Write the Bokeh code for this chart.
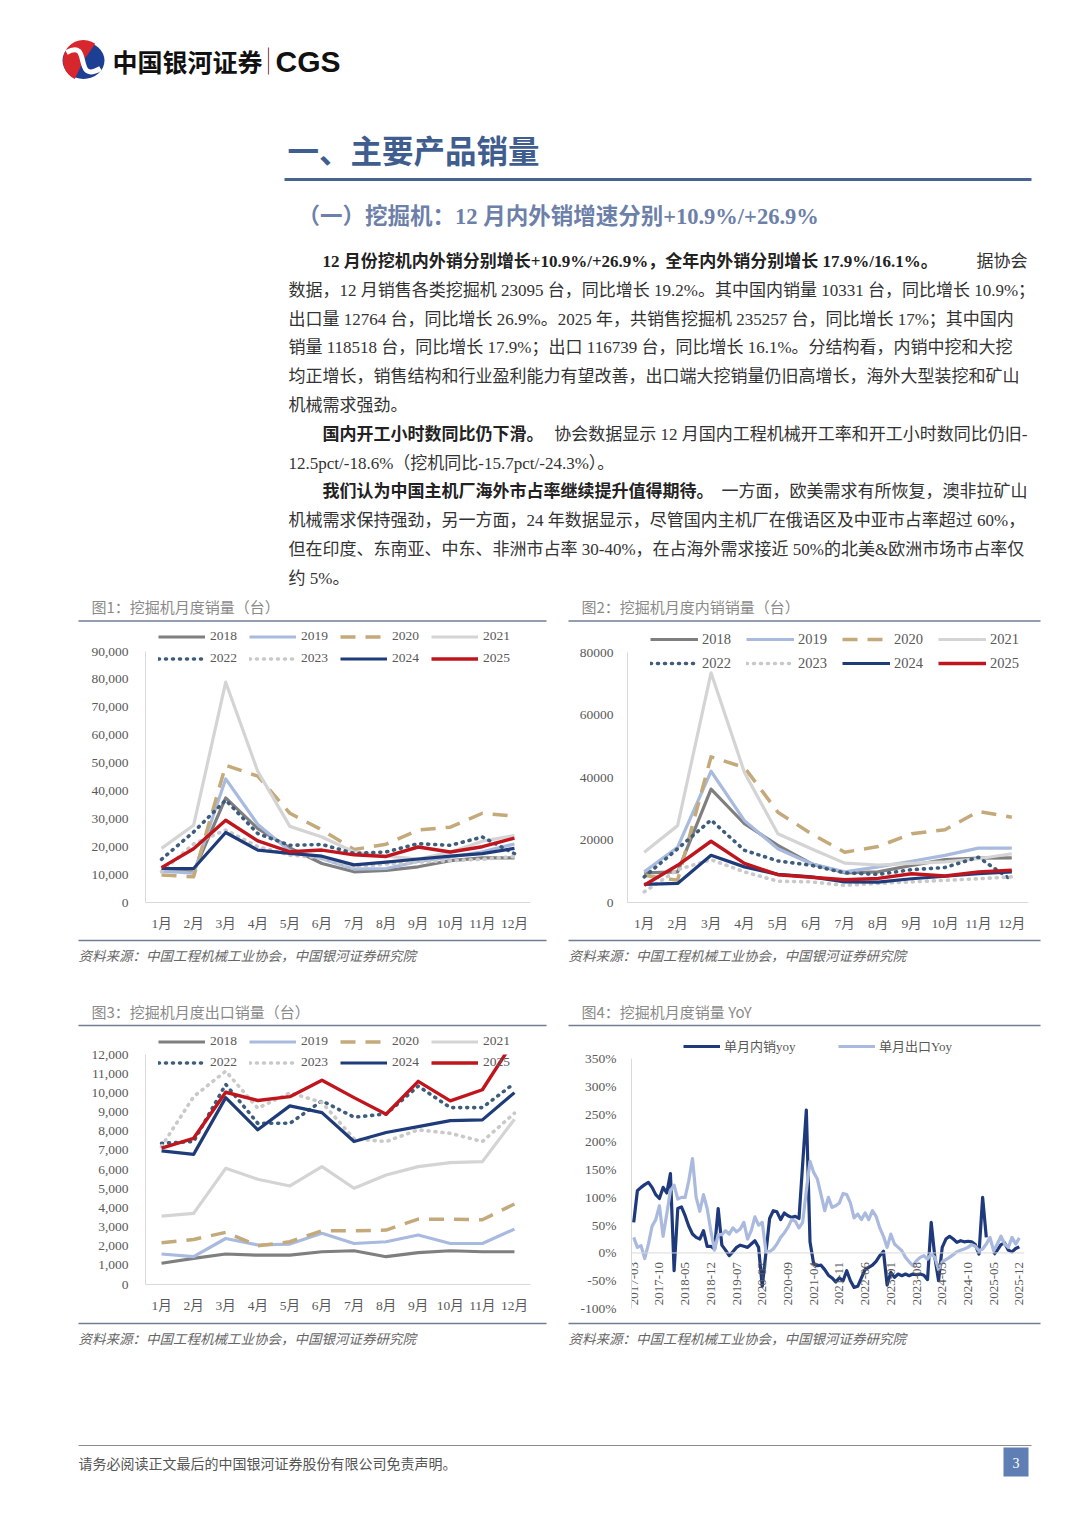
import math
import pandas as pd
from bokeh.plotting import figure
from bokeh.core.properties import value
from bokeh.models import (Range1d, FixedTicker, NumeralTickFormatter, PrintfTickFormatter,
                          Legend, LegendItem, LinearAxis, Label, Span, ColumnDataSource,
                          BoxAnnotation)
from bokeh.layouts import column, row
from bokeh.embed import file_html
from bokeh.resources import INLINE

# ---------------- data ----------------
MONTH_LABELS = ["1月", "2月", "3月", "4月", "5月", "6月", "7月", "8月", "9月", "10月", "11月", "12月"]
MONTH_NUM = list(range(1, 13))
YEARS = ["2018", "2019", "2020", "2021", "2022", "2023", "2024", "2025"]

# Fig1: monthly excavator sales (units)
TOTAL_2018 = [11500, 11000, 37500, 26500, 19600, 14000, 11000, 11500, 12800, 15000, 16000, 16000]
TOTAL_2019 = [11200, 10500, 44300, 28000, 18500, 15700, 12000, 12200, 14700, 16300, 18200, 21000]
TOTAL_2020 = [9900, 9200, 49200, 45300, 32000, 26000, 19000, 20900, 26000, 27000, 32000, 31000]
TOTAL_2021 = [19400, 27700, 79000, 47000, 27300, 23500, 18100, 16600, 15600, 18000, 22000, 24000]
TOTAL_2022 = [15500, 25300, 36700, 24700, 20500, 20800, 17600, 18100, 21100, 20500, 23500, 17500]
TOTAL_2023 = [11000, 21000, 26000, 20000, 17000, 16000, 12600, 13800, 14500, 15000, 15500, 16500]
TOTAL_2024 = [12200, 12200, 25100, 18800, 17600, 16600, 13500, 14500, 15600, 16600, 17500, 19400]
TOTAL_2025 = [12500, 19300, 29500, 22100, 18200, 18800, 17100, 16500, 19900, 18100, 20000, 23095]

# Fig2: monthly domestic sales
DOM_2018 = [9500, 9800, 36300, 25200, 18300, 12400, 9500, 9800, 11900, 13700, 14200, 14300]
DOM_2019 = [9800, 17700, 42000, 26200, 17200, 12400, 9800, 11400, 13200, 15100, 17400, 17400]
DOM_2020 = [8700, 7100, 46600, 43200, 28900, 22000, 16100, 17900, 22000, 23300, 29100, 27300]
DOM_2021 = [16100, 24600, 73500, 41600, 22000, 17200, 12600, 12000, 12500, 13000, 14000, 15600]
DOM_2022 = [8200, 17200, 26400, 16700, 13300, 11900, 9500, 9000, 10500, 11200, 14500, 7100]
DOM_2023 = [3400, 10500, 13700, 9800, 6800, 6600, 5500, 6100, 6600, 7100, 7600, 8200]
DOM_2024 = [5800, 6100, 15100, 11400, 9000, 8200, 6600, 6500, 7600, 8400, 9200, 9800]
DOM_2025 = [5500, 11900, 19600, 12500, 8900, 8100, 7300, 7700, 9200, 8500, 9800, 10331]

# Fig3: monthly export sales
EXP_2018 = [1110, 1360, 1590, 1530, 1530, 1710, 1760, 1450, 1660, 1760, 1710, 1710]
EXP_2019 = [1590, 1450, 2400, 2060, 2110, 2670, 2140, 2230, 2580, 2140, 2140, 2890]
EXP_2020 = [2180, 2350, 2720, 2020, 2230, 2800, 2800, 2840, 3410, 3410, 3380, 4200]
EXP_2021 = [3570, 3710, 6060, 5490, 5140, 6150, 5020, 5710, 6150, 6360, 6410, 8620]
EXP_2022 = [7370, 7460, 10440, 8410, 8410, 9580, 8730, 8900, 10350, 9230, 9230, 10500]
EXP_2023 = [7200, 9800, 11130, 9200, 10000, 9500, 7600, 7460, 8070, 7890, 7460, 8940]
EXP_2024 = [6970, 6790, 9750, 8070, 9320, 8970, 7460, 7930, 8240, 8550, 8590, 10010]
EXP_2025 = [7110, 7630, 10030, 9600, 9800, 10660, 9750, 8880, 10600, 9580, 10160, 12764]

# Fig4: monthly YoY (%), 2017-03 .. 2025-12
NAN = float("nan")
YOY_DOMESTIC = [55, 112, 118, 123, 127, 118, 105, 98, 118, 108,
                143, -32, 80, 83, 67, 48, 34, 28, 25, 40,
                12, 12, 7, 80, 14, 5, -5, 2, 10, 14,
                12, 10, 16, 22, 10, -60, 0, 62, 76, 74,
                60, 72, 67, 64, 66, 62, 160, 257, 20, -20,
                -23, -22, -30, -40, -45, -52, -45, -50, -32, -50,
                -62, -60, -45, -30, -26, -22, -15, -5, 3, -58,
                -35, -44, -38, -41, -38, -41, -38, -39, -38, -40,
                -48, 55, -8, -50, 10, 25, 30, 25, 19, 22,
                20, 21, 20, 15, -2, 100, 28, NAN, -3, 5,
                15, 18, 5, 2, 8, 11]
YOY_EXPORT = [28, 10, 13, -10, 16, 48, 60, 85, 30, 70,
              112, 122, 97, 100, 100, 130, 170, 100, 75, 105,
              80, 40, 5, 33, 33, 40, 34, 45, 38, 43,
              55, 25, 40, 65, 50, 55, 3, 2, 7, 16,
              28, 36, 46, 60, 57, 45, 55, 112, 165, 145,
              133, 105, 76, 100, 82, 85, 90, 107, 105, 90,
              63, 70, 60, 72, 60, 76, 66, 45, 30, 10,
              34, 16, 10, 4, -8, -16, -23, -14, -8, -5,
              -11, -2, -8, -30, -16, -12, -8, -3, 2, 5,
              7, 10, 15, 12, 4, 7, 16, 28, 4, 16,
              30, 16, 10, 28, 16, 27]
YOY_TICK_LABELS = ["2017-03", "2017-10", "2018-05", "2018-12", "2019-07", "2020-02", "2020-09",
                   "2021-04", "2021-11", "2022-06", "2023-01", "2023-08", "2024-03", "2024-10",
                   "2025-05", "2025-12"]
YOY_SERIES = ["单月内销yoy", "单月出口Yoy"]

# ---------------- page texts ----------------
LOGO_CN = "中国银河证券"
LOGO_EN = "CGS"
H1 = "一、主要产品销量"
H2 = "（一）挖掘机：12 月内外销增速分别+10.9%/+26.9%"
PARA = [
    ("12 月份挖机内外销分别增长+10.9%/+26.9%，全年内外销分别增长 17.9%/16.1%。", "据协会"),
    ("", "数据，12 月销售各类挖掘机 23095 台，同比增长 19.2%。其中国内销量 10331 台，同比增长 10.9%；"),
    ("", "出口量 12764 台，同比增长 26.9%。2025 年，共销售挖掘机 235257 台，同比增长 17%；其中国内"),
    ("", "销量 118518 台，同比增长 17.9%；出口 116739 台，同比增长 16.1%。分结构看，内销中挖和大挖"),
    ("", "均正增长，销售结构和行业盈利能力有望改善，出口端大挖销量仍旧高增长，海外大型装挖和矿山"),
    ("", "机械需求强劲。"),
    ("国内开工小时数同比仍下滑。", "协会数据显示 12 月国内工程机械开工率和开工小时数同比仍旧-"),
    ("", "12.5pct/-18.6%（挖机同比-15.7pct/-24.3%）。"),
    ("我们认为中国主机厂海外市占率继续提升值得期待。", "一方面，欧美需求有所恢复，澳非拉矿山"),
    ("", "机械需求保持强劲，另一方面，24 年数据显示，尽管国内主机厂在俄语区及中亚市占率超过 60%，"),
    ("", "但在印度、东南亚、中东、非洲市占率 30-40%，在占海外需求接近 50%的北美&欧洲市场市占率仅"),
    ("", "约 5%。"),
]
PARA_Y = [261, 290, 319, 347, 376, 405, 434, 463, 491, 520, 549, 578]
TITLE1 = "图1：挖掘机月度销量（台）"
TITLE2 = "图2：挖掘机月度内销销量（台）"
TITLE3 = "图3：挖掘机月度出口销量（台）"
TITLE4 = "图4：挖掘机月度销量 YoY"
SOURCE = "资料来源：中国工程机械工业协会，中国银河证券研究院"
FOOTER = "请务必阅读正文最后的中国银河证券股份有限公司免责声明。"
PAGE_NO = "3"

# ---------------- styles ----------------
SERIF = "'Liberation Serif', 'Noto Sans CJK SC'"
CJK = "'Noto Sans CJK SC'"
TICK_COLOR = "#595959"
AXIS_COLOR = "#d9d9d9"
RULE_COLOR = "#6f7c92"
STYLE = {
    "2018": dict(line_color="#7f7f7f", line_width=3.2),
    "2019": dict(line_color="#a9badf", line_width=3.2),
    "2020": dict(line_color="#c4a97b", line_width=3.5, line_dash="15 10"),
    "2021": dict(line_color="#d4d4d4", line_width=3.2),
    "2022": dict(line_color="#3e5d7c", line_width=3.6, line_dash="1 6", line_cap="round"),
    "2023": dict(line_color="#c9c9c9", line_width=3.6, line_dash="1 6", line_cap="round"),
    "2024": dict(line_color="#1f3c7a", line_width=3.2),
    "2025": dict(line_color="#c0151d", line_width=3.4),
}
YOY_STYLE = [dict(line_color="#1f3a7c", line_width=3.2), dict(line_color="#aab9de", line_width=3.2)]

PAGE_W = 1064


def page_fig(top, bottom):
    p = figure(width=PAGE_W, height=bottom - top, x_range=Range1d(0, PAGE_W),
               y_range=Range1d(bottom, top), output_backend="svg", toolbar_location=None,
               min_border=0, x_axis_location=None, y_axis_location=None)
    p.outline_line_color = None
    p.grid.visible = False
    return p


def put(p, x, y, text, size, color, font=SERIF, style="normal", align="left"):
    p.add_layout(Label(x=x, y=y, text=text, text_font=font, text_font_size=f"{size}px",
                       text_color=color, text_font_style=style, text_align=align,
                       text_baseline="middle"))


def hline(p, x0, x1, y, color, width):
    p.segment(x0=[x0], y0=[y], x1=[x1], y1=[y], line_color=color, line_width=width)


def style_axis(ax, standoff, size=13.5):
    ax.axis_line_color = AXIS_COLOR
    ax.axis_line_width = 1
    ax.major_tick_line_color = None
    ax.minor_tick_line_color = None
    ax.major_tick_out = 0
    ax.major_tick_in = 0
    ax.minor_tick_out = 0
    ax.minor_tick_in = 0
    ax.major_label_text_font = SERIF
    ax.major_label_text_font_size = f"{size}px"
    ax.major_label_text_color = TICK_COLOR
    ax.major_label_standoff = standoff


BT = 2  # plot frame starts right below the chart-title rule; legend rows live inside it


def chart_fig(w, h, bl, br, bb, xr, ymin, ymax, page_top, axis_top_px):
    """Frame reaches up to hold the legend; the value axis itself spans ymin..ymax."""
    frame_top = page_top + BT
    frame_bottom = page_top + h - bb
    y_end = ymin + (ymax - ymin) * (frame_bottom - frame_top) / (frame_bottom - axis_top_px)
    p = figure(width=w, height=h, x_range=xr, y_range=Range1d(ymin, y_end),
               output_backend="svg", toolbar_location=None, min_border_left=bl,
               min_border_right=br, min_border_top=BT, min_border_bottom=bb,
               x_axis_location=None, y_axis_location=None)
    p.outline_line_color = None
    p.grid.visible = False
    # each chart keeps its own frame (no border alignment with its neighbour in the row)
    if "frame_align" in p.properties():
        p.frame_align = False
    # plot-area clipping above the value-axis maximum (as in the source chart)
    p.add_layout(BoxAnnotation(bottom=ymax, fill_color="white", fill_alpha=1.0,
                               line_alpha=0, level="guide"))
    return p, frame_bottom


def make_legend(pairs, loc, font_size, glyph_w, label_w, spacing, standoff, item_h):
    items = [LegendItem(label=lab, renderers=[ren]) for lab, ren in pairs]
    return Legend(items=items, orientation="horizontal", location=loc,
                  padding=0, margin=0, spacing=spacing, glyph_width=glyph_w,
                  glyph_height=item_h, label_height=item_h, label_width=label_w,
                  label_standoff=standoff, label_text_font=SERIF,
                  label_text_font_size=f"{font_size}px", label_text_color=TICK_COLOR,
                  border_line_color=None, background_fill_alpha=0)


def monthly_chart(series, page_top, w, h, bl, br, bb, axis_top_px, ymax, ystep, fmt,
                  rows_y, lx, legend_font, glyph_w, label_w, spacing, standoff,
                  ylab_standoff, item_h=17):
    p, frame_bottom = chart_fig(w, h, bl, br, bb, Range1d(0.5, 12.5), 0, ymax,
                                page_top, axis_top_px)
    yax = LinearAxis(ticker=FixedTicker(ticks=list(range(0, ymax + 1, ystep))),
                     formatter=NumeralTickFormatter(format=fmt), bounds=(0, ymax))
    style_axis(yax, ylab_standoff)
    p.add_layout(yax, "left")
    xax = LinearAxis(ticker=FixedTicker(ticks=MONTH_NUM),
                     major_label_overrides={m: lab for m, lab in zip(MONTH_NUM, MONTH_LABELS)})
    style_axis(xax, 13)
    p.add_layout(xax, "below")
    pairs = []
    for yr, vals in zip(YEARS, series):
        r = p.line(MONTH_NUM, vals, line_join="round", **STYLE[yr])
        pairs.append((yr, r))
    for k, yc in enumerate(rows_y):
        leg = make_legend(pairs[4 * k:4 * k + 4], (lx, frame_bottom - (yc + item_h / 2)),
                          legend_font, glyph_w, label_w, spacing, standoff, item_h)
        p.add_layout(leg, "center")
    return p


# ---------------- top section (page y 0..622) ----------------
top = page_fig(0, 622)
# logo
top.ellipse(x=[83], y=[60], width=[42], height=[37], fill_color="#1d3f93", line_color=None)
top.wedge(x=[83], y=[60], radius=[20.5], start_angle=[math.radians(55)],
          end_angle=[math.radians(245)], fill_color="#d7262d", line_color=None)
top.bezier(x0=[66], y0=[52], x1=[100], y1=[68], cx0=[92], cy0=[38], cx1=[72], cy1=[84],
           line_color="white", line_width=5)
put(top, 112, 60, LOGO_CN, 25, "#111111", font=CJK, style="bold")
top.segment(x0=[268], y0=[47], x1=[268], y1=[74], line_color="#9b5a5a", line_width=1.2)
put(top, 275, 61, LOGO_EN, 30, "#111111", font="'Liberation Sans'", style="bold")
# headings
put(top, 287, 148, H1, 31.5, "#3f5d8e", font=CJK, style="bold")
hline(top, 284, 1031, 179, "#46648f", 3)
put(top, 297, 216, H2, 22.5, "#6c80a9", font=SERIF, style="bold")
# paragraphs
for (bold, normal), y in zip(PARA, PARA_Y):
    if bold:
        put(top, 322, y, bold, 17, "#222222", style="bold")
        put(top, 1027, y, normal, 17, "#333333", align="right")
    else:
        put(top, 288, y, normal, 17, "#333333")
# chart titles row 1
put(top, 91, 606, TITLE1, 15, "#8a8a8a", font=CJK)
put(top, 581, 606, TITLE2, 15, "#8a8a8a", font=CJK)
hline(top, 78, 546, 620.5, RULE_COLOR, 1.5)
hline(top, 568, 1040, 620.5, RULE_COLOR, 1.5)

# ---------------- charts row 1 (page y 622..938) ----------------
p1 = monthly_chart([TOTAL_2018, TOTAL_2019, TOTAL_2020, TOTAL_2021, TOTAL_2022, TOTAL_2023,
                    TOTAL_2024, TOTAL_2025], 622, 540, 316, 145, 10, 36, 651, 90000, 10000,
                   "0,0", [636, 658], 13, 13.5, 47, 30, 9, 5, 17)
p2 = monthly_chart([DOM_2018, DOM_2019, DOM_2020, DOM_2021, DOM_2022, DOM_2023,
                    DOM_2024, DOM_2025], 622, 524, 316, 87, 36, 36, 652, 80000, 20000,
                   "0", [639, 663], 23, 14.5, 48, 32, 12, 4, 14, item_h=18)

# ---------------- middle section (page y 938..1027) ----------------
mid = page_fig(938, 1027)
hline(mid, 78, 546, 940, RULE_COLOR, 1.5)
hline(mid, 568, 1040, 940, RULE_COLOR, 1.5)
put(mid, 78, 954, SOURCE, 13.5, "#666666", font=CJK, style="italic")
put(mid, 568, 954, SOURCE, 13.5, "#666666", font=CJK, style="italic")
put(mid, 91, 1011, TITLE3, 15, "#8a8a8a", font=CJK)
put(mid, 581, 1011, TITLE4, 15, "#8a8a8a", font=CJK)
hline(mid, 78, 546, 1025, RULE_COLOR, 1.5)
hline(mid, 568, 1040, 1025, RULE_COLOR, 1.5)

# ---------------- charts row 2 (page y 1027..1320) ----------------
p3 = monthly_chart([EXP_2018, EXP_2019, EXP_2020, EXP_2021, EXP_2022, EXP_2023,
                    EXP_2024, EXP_2025], 1027, 540, 293, 145, 10, 36, 1054, 12000, 1000,
                   "0,0", [1041, 1062], 13, 13.5, 47, 30, 9, 5, 17)

months = pd.period_range("2017-03", "2025-12", freq="M").strftime("%Y-%m").tolist()
xidx = list(range(len(months)))
tick_idx = [months.index(m) for m in YOY_TICK_LABELS]
p4, f4_bottom = chart_fig(524, 293, 91, 40, 12, Range1d(-0.6, len(months) + 0.4),
                          -100, 350, 1027, 1058)
y4 = LinearAxis(ticker=FixedTicker(ticks=list(range(-100, 351, 50))),
                formatter=PrintfTickFormatter(format="%d%%"), bounds=(-100, 350))
style_axis(y4, 15)
p4.add_layout(y4, "left")
p4.add_layout(Span(location=0, dimension="width", line_color=AXIS_COLOR, line_width=1))
pairs4 = []
for name, vals, st in zip(YOY_SERIES, [YOY_DOMESTIC, YOY_EXPORT], YOY_STYLE):
    r = p4.line(xidx, vals, line_join="round", **st)
    pairs4.append((name, r))
# date labels hang below the 0% line
lab_src = ColumnDataSource(dict(x=tick_idx, y=[0] * len(tick_idx),
                                text=[months[i] for i in tick_idx]))
p4.text(x="x", y="y", text="text", source=lab_src, angle=math.pi / 2, text_align="right",
        text_baseline="middle", y_offset=9, text_font=value(SERIF),
        text_font_size=value("13px"), text_color=TICK_COLOR)
leg4 = make_legend(pairs4, (52, f4_bottom - (1046 + 9)), 13, 37, 72, 42, 4, 18)
p4.add_layout(leg4, "center")

# ---------------- bottom section (page y 1320..1500) ----------------
bot = page_fig(1320, 1500)
hline(bot, 78, 546, 1323, RULE_COLOR, 1.5)
hline(bot, 568, 1040, 1323, RULE_COLOR, 1.5)
put(bot, 78, 1337, SOURCE, 13.5, "#666666", font=CJK, style="italic")
put(bot, 568, 1337, SOURCE, 13.5, "#666666", font=CJK, style="italic")
hline(bot, 78, 1031, 1445, "#8c8c8c", 1)
put(bot, 78, 1462, FOOTER, 14, "#555555", font=CJK)
bot.rect(x=[1015.5], y=[1461.5], width=[25], height=[29], fill_color="#5f7fb4", line_color=None)
put(bot, 1015.5, 1462, PAGE_NO, 14, "white", align="center")

layout = column(top, row(p1, p2), mid, row(p3, p4), bot)
open("out.html", "w").write(file_html(layout, INLINE))
